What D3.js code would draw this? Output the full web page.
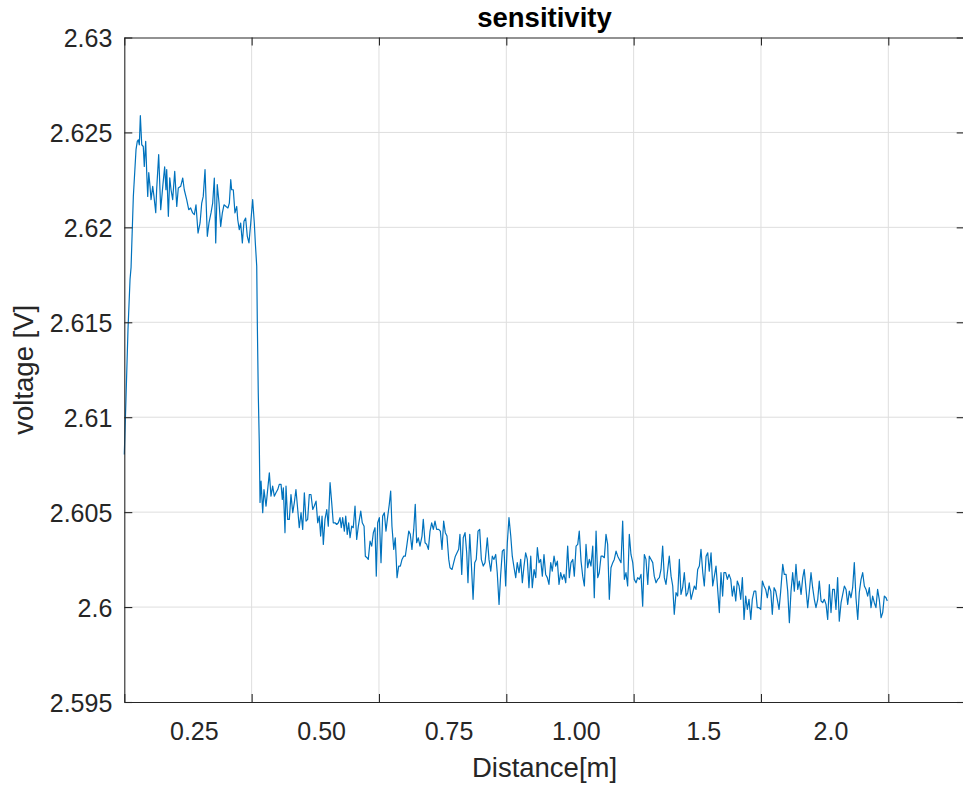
<!DOCTYPE html>
<html>
<head>
<meta charset="utf-8">
<script src="https://cdn.jsdelivr.net/npm/d3@7"></script>
<style>
  body { margin: 0; background: #fff; }
  svg { display: block; }
  text { font-family: "Liberation Sans", Arial, sans-serif; fill: #262626; }
</style>
</head>
<body>
<div id="chart"></div>
<script>
// sample number along the sweep
const sample = [
  0.0, 1.3, 2.9, 4.5, 5.3, 7.1, 9.2, 10.2, 11.0, 11.8,
  12.6, 13.7, 14.9, 15.7, 16.8, 17.6, 18.4, 19.2, 20.2, 21.0,
  22.3, 23.3, 24.7, 25.4, 27.0, 28.6, 30.2, 31.7, 32.7, 33.3,
  34.6, 35.7, 36.7, 38.0, 39.6, 41.2, 42.4, 44.3, 45.9, 47.1,
  49.0, 50.6, 52.1, 53.7, 55.0, 56.3, 57.9, 59.5, 60.8, 62.0,
  63.4, 64.2, 65.2, 66.5, 68.1, 69.4, 70.7, 71.8, 73.0, 74.4,
  75.7, 77.0, 78.3, 79.9, 81.4, 82.5, 83.6, 84.3, 85.6, 86.9,
  88.3, 89.1, 90.3, 91.4, 92.7, 94.0, 95.3, 96.6, 97.9, 99.3,
  100.8, 102.1, 102.9, 104.0, 104.5, 105.2, 106.0, 106.6, 107.4, 108.7,
  109.7, 111.3, 112.6, 113.9, 115.2, 116.5, 117.8, 119.1, 120.5, 121.7,
  123.1, 124.1, 124.9, 126.2, 127.0, 128.3, 129.6, 130.9, 132.3, 133.5,
  134.8, 136.2, 137.4, 138.8, 140.1, 141.4, 142.7, 144.0, 145.3, 146.6,
  148.0, 149.2, 150.6, 151.9, 153.1, 154.2, 155.3, 156.3, 157.6, 159.0,
  160.2, 161.6, 162.9, 164.1, 165.5, 166.8, 168.1, 169.4, 170.4, 171.5,
  172.8, 173.9, 175.1, 176.2, 177.3, 178.6, 179.8, 181.2, 182.5, 183.8,
  185.7, 186.9, 188.3, 189.3, 190.6, 191.6, 193.0, 194.3, 195.6, 196.9,
  197.9, 199.0, 200.3, 201.6, 202.9, 204.2, 205.5, 206.9, 208.1, 209.2,
  210.2, 211.6, 212.8, 214.2, 215.5, 216.8, 218.1, 219.4, 220.7, 222.0,
  223.4, 224.6, 225.9, 227.3, 228.5, 229.6, 230.9, 232.2, 233.8, 234.8,
  236.2, 237.5, 238.8, 240.1, 241.4, 242.7, 244.0, 245.3, 246.9, 248.2,
  249.5, 250.8, 252.1, 253.4, 254.8, 255.8, 257.4, 258.7, 260.0, 261.3,
  262.6, 263.6, 265.0, 266.2, 267.6, 268.9, 269.9, 271.3, 272.5, 273.9,
  275.2, 276.4, 277.8, 279.1, 280.4, 281.9, 283.3, 285.1, 286.4, 287.8,
  289.0, 290.3, 291.7, 292.9, 294.3, 295.6, 296.9, 298.2, 299.5, 300.8,
  302.1, 303.5, 304.7, 306.1, 307.4, 308.6, 310.0, 311.3, 312.6, 313.9,
  315.2, 316.5, 317.8, 319.2, 320.4, 321.8, 323.1, 324.4, 325.7, 327.0,
  328.3, 329.6, 330.9, 332.2, 333.5, 334.9, 336.1, 337.5, 338.8, 340.1,
  341.4, 342.7, 344.0, 345.3, 346.7, 348.2, 349.5, 350.8, 352.2, 353.4,
  354.8, 356.1, 357.3, 358.7, 360.0, 361.3, 362.6, 363.9, 365.2, 366.5,
  367.9, 369.1, 370.5, 371.8, 373.0, 374.4, 375.7, 377.0, 378.3, 379.6,
  380.9, 382.2, 383.6, 384.8, 386.2, 387.5, 388.8, 390.1, 391.4, 392.7,
  394.0, 395.3, 396.6, 397.9, 399.3, 400.5, 401.9, 403.2, 404.5, 405.8,
  407.1, 408.4, 409.7, 411.1, 412.3, 413.7, 415.0, 416.2, 417.6, 418.9,
  420.2, 421.5, 422.8, 424.1, 425.4, 426.8, 428.0, 429.4, 430.7, 431.9,
  433.3, 434.6, 435.9, 437.2, 438.5, 439.8, 441.2, 442.5, 443.7, 445.1,
  446.4, 447.7, 449.0, 450.3, 451.6, 452.9, 454.3, 455.5, 456.9, 458.2,
  459.4, 460.8, 462.1, 463.4, 464.7, 466.0, 467.3, 468.6, 469.9, 470.9,
  472.3, 473.6, 474.9, 476.3, 477.5, 478.8, 480.2, 481.4, 482.8, 484.1,
  485.4, 486.7, 488.0, 489.3, 490.6, 492.0, 493.2, 494.6, 495.9, 497.1,
  498.5, 499.8, 501.1, 502.4, 503.7, 505.0, 506.3, 507.7, 508.9, 510.3,
  511.6, 512.8, 514.2, 515.5, 517.1, 518.3, 519.7, 521.0, 522.3, 523.6,
  524.9, 526.2, 527.5, 528.9, 530.1, 531.5, 532.8, 534.0, 535.4, 536.7,
  538.0, 539.3, 540.6, 541.9, 543.2, 544.6, 545.8, 547.2, 548.5, 549.7,
  551.1, 552.4, 553.7, 555.0, 556.3, 557.6, 558.9, 560.2, 561.5, 562.9,
  564.2, 565.5, 566.8, 568.1, 569.4, 570.7, 572.0, 573.3, 574.6, 576.0,
  577.2, 578.6, 579.9, 581.2, 582.5, 583.8, 585.1, 586.4, 587.7, 589.0,
  590.3, 591.6, 592.9, 594.3, 595.6, 596.9, 598.2, 599.2
];

// measured voltage [V], same order as sample
const voltage = [
  2.60804, 2.61093, 2.61462, 2.61725, 2.61788, 2.62163, 2.62409, 2.62453, 2.62461, 2.62435,
  2.62588, 2.62435, 2.62426, 2.62321, 2.62453, 2.62288, 2.62163, 2.62288, 2.62216, 2.62146,
  2.62216, 2.62163, 2.62077, 2.62198, 2.62383, 2.62093, 2.62216, 2.62319, 2.62198, 2.62304,
  2.62058, 2.62261, 2.62198, 2.62146, 2.62295, 2.62110, 2.62207, 2.62216, 2.62260, 2.62198,
  2.62146, 2.62093, 2.62102, 2.62076, 2.62067, 2.62119, 2.61970, 2.62023, 2.62128, 2.62163,
  2.62304, 2.62146, 2.61953, 2.62023, 2.62076, 2.62128, 2.62260, 2.61918, 2.62225, 2.62128,
  2.62005, 2.62076, 2.62119, 2.62110, 2.62102, 2.62128, 2.62251, 2.62198, 2.62198, 2.62076,
  2.62110, 2.62040, 2.61988, 2.62023, 2.61918, 2.62032, 2.62049, 2.61953, 2.61918, 2.62023,
  2.62146, 2.62023, 2.61918, 2.61795, 2.61479, 2.61130, 2.60867, 2.60551, 2.60663, 2.60497,
  2.60619, 2.60532, 2.60619, 2.60707, 2.60584, 2.60637, 2.60584, 2.60602, 2.60619, 2.60646,
  2.60646, 2.60567, 2.60628, 2.60392, 2.60637, 2.60462, 2.60462, 2.60593, 2.60497, 2.60549,
  2.60619, 2.60514, 2.60418, 2.60497, 2.60409, 2.60602, 2.60453, 2.60462, 2.60593, 2.60593,
  2.60514, 2.60532, 2.60558, 2.60444, 2.60479, 2.60374, 2.60479, 2.60330, 2.60462, 2.60514,
  2.60426, 2.60655, 2.60549, 2.60444, 2.60444, 2.60435, 2.60444, 2.60471, 2.60418, 2.60471,
  2.60400, 2.60479, 2.60383, 2.60444, 2.60365, 2.60426, 2.60418, 2.60532, 2.60356, 2.60426,
  2.60505, 2.60444, 2.60426, 2.60268, 2.60260, 2.60251, 2.60347, 2.60321, 2.60392, 2.60418,
  2.60163, 2.60444, 2.60471, 2.60234, 2.60479, 2.60497, 2.60400, 2.60479, 2.60541, 2.60611,
  2.60426, 2.60304, 2.60365, 2.60155, 2.60216, 2.60216, 2.60251, 2.60268, 2.60268, 2.60330,
  2.60400, 2.60383, 2.60304, 2.60409, 2.60541, 2.60339, 2.60365, 2.60321, 2.60374, 2.60462,
  2.60339, 2.60330, 2.60304, 2.60400, 2.60444, 2.60409, 2.60453, 2.60409, 2.60409, 2.60400,
  2.60304, 2.60453, 2.60392, 2.60374, 2.60251, 2.60207, 2.60198, 2.60234, 2.60268, 2.60286,
  2.60304, 2.60383, 2.60172, 2.60365, 2.60392, 2.60286, 2.60128, 2.60383, 2.60234, 2.60041,
  2.60234, 2.60251, 2.60400, 2.60409, 2.60251, 2.60216, 2.60234, 2.60365, 2.60251, 2.60189,
  2.60268, 2.60251, 2.60277, 2.60181, 2.60014, 2.60172, 2.60295, 2.60304, 2.60111, 2.60339,
  2.60471, 2.60374, 2.60268, 2.60207, 2.60155, 2.60234, 2.60181, 2.60251, 2.60128, 2.60216,
  2.60286, 2.60251, 2.60102, 2.60268, 2.60102, 2.60198, 2.60155, 2.60313, 2.60234, 2.60251,
  2.60163, 2.60277, 2.60172, 2.60155, 2.60119, 2.60234, 2.60189, 2.60268, 2.60216, 2.60242,
  2.60119, 2.60181, 2.60146, 2.60172, 2.60128, 2.60321, 2.60155, 2.60234, 2.60251, 2.60163,
  2.60321, 2.60330, 2.60400, 2.60242, 2.60163, 2.60111, 2.60330, 2.60207, 2.60251, 2.60216,
  2.60321, 2.60049, 2.60400, 2.60155, 2.60181, 2.60268, 2.60268, 2.60260, 2.60383, 2.60330,
  2.60041, 2.60207, 2.60234, 2.60251, 2.60295, 2.60268, 2.60251, 2.60234, 2.60453, 2.60146,
  2.60181, 2.60111, 2.60383, 2.60277, 2.60234, 2.60146, 2.60128, 2.60155, 2.60146, 2.60172,
  2.60005, 2.60277, 2.60251, 2.60119, 2.60268, 2.60251, 2.60234, 2.60163, 2.60128, 2.60146,
  2.60155, 2.60198, 2.60321, 2.60155, 2.60119, 2.60198, 2.60268, 2.60163, 2.60111, 2.59962,
  2.60076, 2.60058, 2.60251, 2.60067, 2.60102, 2.60181, 2.60058, 2.60076, 2.60128, 2.60041,
  2.60076, 2.60111, 2.60093, 2.60198, 2.60216, 2.60304, 2.60181, 2.60111, 2.60268, 2.60286,
  2.60189, 2.60286, 2.60111, 2.60163, 2.60216, 2.60093, 2.59971, 2.60181, 2.60058, 2.60181,
  2.60181, 2.60146, 2.60172, 2.60146, 2.60058, 2.60111, 2.60032, 2.60137, 2.60111, 2.60041,
  2.60155, 2.59935, 2.60058, 2.59988, 2.60041, 2.59935, 2.60041, 2.60084, 2.60084, 2.59997,
  2.59997, 2.59988, 2.60137, 2.60111, 2.60093, 2.60049, 2.60111, 2.60084, 2.59962, 2.60102,
  2.60084, 2.60041, 2.59988, 2.60084, 2.60225, 2.60172, 2.60172, 2.60084, 2.59918, 2.60084,
  2.60181, 2.60084, 2.60225, 2.60093, 2.60137, 2.60067, 2.60155, 2.60198, 2.60093, 2.59997,
  2.60084, 2.60181, 2.60102, 2.60041, 2.59997, 2.60041, 2.60137, 2.60032, 2.60023, 2.60041,
  2.60014, 2.59935, 2.60119, 2.59971, 2.60093, 2.60093, 2.59988, 2.60155, 2.59926, 2.60023,
  2.60067, 2.60111, 2.60093, 2.60014, 2.60084, 2.60049, 2.60102, 2.60234, 2.60049, 2.59935,
  2.60076, 2.60146, 2.60181, 2.60111, 2.60093, 2.60058, 2.60102, 2.59997, 2.60058, 2.60023,
  2.59997, 2.60093, 2.60041, 2.59944, 2.59971, 2.60058, 2.60049, 2.60032
];

const xTicks = [0, 100, 200, 300, 400, 500, 600];
const xTickLabels = ['0.25', '0.50', '0.75', '1.00', '1.5', '2.0'];
const yTicks = [2.595, 2.6, 2.605, 2.61, 2.615, 2.62, 2.625, 2.63];

const W = 963, H = 785;
const plotLeft = 124.3, plotRight = 964.7, plotTop = 37.5, plotBottom = 702;
const ink = '#262626';

const svg = d3.select('#chart').append('svg')
  .attr('width', W)
  .attr('height', H);

const x = d3.scaleLinear().domain([0, 660]).range([plotLeft, plotRight]);
const y = d3.scaleLinear().domain([2.595, 2.63]).range([plotBottom, plotTop]);

// grid
svg.append('g')
  .selectAll('line')
  .data(xTicks.slice(1))
  .join('line')
  .attr('x1', d => x(d)).attr('x2', d => x(d))
  .attr('y1', plotTop).attr('y2', plotBottom)
  .attr('stroke', '#dedede').attr('stroke-width', 1);

svg.append('g')
  .selectAll('line')
  .data(yTicks.slice(1, -1))
  .join('line')
  .attr('x1', plotLeft).attr('x2', plotRight)
  .attr('y1', d => y(d)).attr('y2', d => y(d))
  .attr('stroke', '#dedede').attr('stroke-width', 1);

// data
const line = d3.line()
  .x((d, i) => x(sample[i]))
  .y(d => y(d));

svg.append('path')
  .datum(voltage)
  .attr('fill', 'none')
  .attr('stroke', '#0072bd')
  .attr('stroke-width', 1.2)
  .attr('stroke-linejoin', 'round')
  .attr('d', line);

// box with inward ticks
const styleAxis = g => {
  g.selectAll('path, line').attr('stroke', ink).attr('stroke-width', 1.1);
  g.selectAll('text').remove();
};

svg.append('g')
  .attr('transform', `translate(0,${plotBottom})`)
  .call(d3.axisBottom(x).tickValues(xTicks).tickSize(-8).tickSizeOuter(0))
  .call(styleAxis);

svg.append('g')
  .attr('transform', `translate(0,${plotTop})`)
  .call(d3.axisTop(x).tickValues(xTicks).tickSize(-8).tickSizeOuter(0))
  .call(styleAxis);

svg.append('g')
  .attr('transform', `translate(${plotLeft},0)`)
  .call(d3.axisLeft(y).tickValues(yTicks).tickSize(-8).tickSizeOuter(0))
  .call(styleAxis);

svg.append('g')
  .attr('transform', `translate(${plotRight},0)`)
  .call(d3.axisRight(y).tickValues(yTicks).tickSize(-8).tickSizeOuter(0))
  .call(styleAxis);

// tick labels
svg.append('g')
  .selectAll('text')
  .data(xTickLabels)
  .join('text')
  .attr('x', (d, i) => x(xTicks[i] + 55))
  .attr('y', 740)
  .attr('text-anchor', 'middle')
  .attr('font-size', 25)
  .text(d => d);

svg.append('g')
  .selectAll('text')
  .data(yTicks)
  .join('text')
  .attr('x', plotLeft - 12)
  .attr('y', d => y(d))
  .attr('dy', '0.38em')
  .attr('text-anchor', 'end')
  .attr('font-size', 25)
  .text(d => String(+d.toFixed(3)));

// titles
svg.append('text')
  .attr('x', (plotLeft + plotRight) / 2)
  .attr('y', 27)
  .attr('text-anchor', 'middle')
  .attr('font-size', 27.5)
  .attr('font-weight', 'bold')
  .style('fill', '#000')
  .text('sensitivity');

svg.append('text')
  .attr('x', (plotLeft + plotRight) / 2)
  .attr('y', 777)
  .attr('text-anchor', 'middle')
  .attr('font-size', 27.5)
  .text('Distance[m]');

svg.append('text')
  .attr('transform', `translate(33,${(plotTop + plotBottom) / 2}) rotate(-90)`)
  .attr('text-anchor', 'middle')
  .attr('font-size', 27.5)
  .text('voltage [V]');
</script>
</body>
</html>
